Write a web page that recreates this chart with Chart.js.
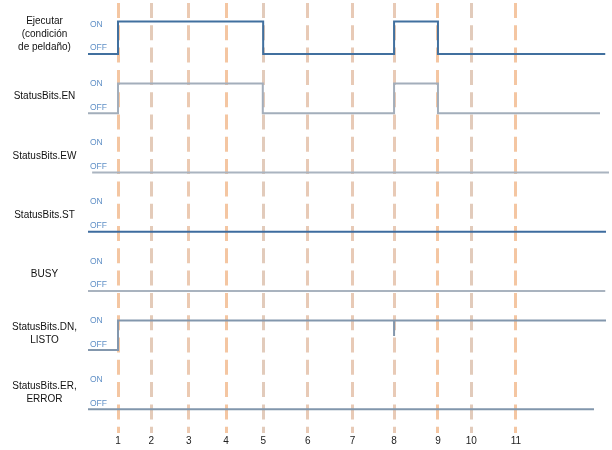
<!DOCTYPE html>
<html>
<head>
<meta charset="utf-8">
<script src="https://cdn.jsdelivr.net/npm/chart.js@4/dist/chart.umd.min.js"></script>
<style>
body{margin:0;background:#fff;}
#wrap{width:612px;height:450px;position:relative;}
</style>
</head>
<body>
<div id="wrap"><canvas id="timing"></canvas></div>
<script>
// time marks along the bottom (dashed lines)
const markLabels = ['1','2','3','4','5','6','7','8','9','10','11'];
const markPos = [1, 1.89, 2.89, 3.88, 4.87, 6.06, 7.25, 8.36, 9.53, 10.42, 11.61];

// signals, top to bottom
const rowNames = [
['Ejecutar','(condición','de peldaño)'],
'StatusBits.EN',
'StatusBits.EW',
'StatusBits.ST',
'BUSY',
['StatusBits.DN,','LISTO'],
['StatusBits.ER,','ERROR']
];
const lineStart = [0.2, 0.2, 0.31, 0.2, 0.2, 0.2, 0.2];
const lineEnd = [13.99, 13.85, 14.09, 14.01, 13.99, 14.01, 13.69];
const onIntervals = [
[[1, 4.87], [8.36, 9.53]],
[[1, 4.86], [8.36, 9.53]],
[],
[],
[],
[[1, 14.01]],
[]
];
// short dip on the DN line at mark 8
const dnGlitch = [8.36];

const lineColors = ['#41709f','#a3aebb','#aab4c0','#3e6c9f','#a9b3bf','#8397ad','#8196ac'];
const markColors = ['#f4c6a2','#e4cbb9','#eccab2','#f4c6a2','#e2cbbb','#e8cab6','#e8cab6','#e8cab6','#f4c6a2','#e2cbbb','#f4c6a2'];

function offLevel(i){
return 6 - i;
}

function onLevel(i){
return 6 - i + (i===0 ? 0.55 : 0.5);
}

function buildPoints(i){

const off = offLevel(i);
const on = onLevel(i);
const pts = [{x:lineStart[i], y:off}];

onIntervals[i].forEach(iv=>{

pts.push({x:iv[0], y:off});
pts.push({x:iv[0], y:on});

if(i===5){
dnGlitch.forEach(g=>{
pts.push({x:g, y:on});
pts.push({x:g, y:on-0.26});
pts.push({x:g, y:on});
});
}

pts.push({x:iv[1], y:on});

if(iv[1] < lineEnd[i]){
pts.push({x:iv[1], y:off});
}

});

const last = pts[pts.length-1];
if(last.x < lineEnd[i]){
pts.push({x:lineEnd[i], y:off});
}

return pts;

}

const datasets = rowNames.map((name,i)=>({
label: Array.isArray(name) ? name.join(' ') : name,
data: buildPoints(i),
borderColor: lineColors[i],
borderWidth: 2,
pointRadius: 0,
tension: 0,
fill: false,
borderJoinStyle: 'miter',
yAxisID: 'y'
}));

const yMin = -0.4;
const yMax = 6.912;

function noPadding(scale){
scale.paddingTop = 0;
scale.paddingBottom = 0;
scale.paddingLeft = 0;
scale.paddingRight = 0;
}

const timingChart = new Chart(
document.getElementById('timing'),
{
type:'line',
data:{datasets:datasets},
options:{
responsive:true,
maintainAspectRatio:false,
animation:false,
layout:{padding:0},
plugins:{
legend:{display:false},
tooltip:{enabled:false}
},
scales:{
x:{
type:'linear',
min:0.2,
max:14.17,
z:1,
afterBuildTicks:function(scale){
scale.ticks = markPos.map(v=>({value:v}));
},
afterFit:function(scale){
scale.height = 17;
noPadding(scale);
},
ticks:{
autoSkip:false,
maxRotation:0,
padding:2,
color:'#222',
font:{family:'Liberation Sans, Arial', size:10},
callback:function(value,index){
return markLabels[index];
}
},
grid:{
drawTicks:false,
lineWidth:3,
color:function(ctx){
return markColors[ctx.index] || '#f4c6a2';
}
},
border:{display:false, dash:[15,7.3], dashOffset:19.3}
},
y:{
type:'linear',
position:'left',
weight:1,
min:yMin,
max:yMax,
afterBuildTicks:function(scale){
scale.ticks = rowNames.map((n,i)=>({value: offLevel(i) + (i===0 ? 0.34 : 0.28)}));
},
afterFit:function(scale){
scale.width = 88;
noPadding(scale);
},
ticks:{
autoSkip:false,
crossAlign:'center',
color:'#111',
font:{family:'Liberation Sans, Arial', size:10, lineHeight:1.3},
callback:function(value,index){
return rowNames[index];
}
},
grid:{display:false},
border:{display:false}
},
yState:{
type:'linear',
position:'left',
weight:0,
min:yMin,
max:yMax,
afterBuildTicks:function(scale){
const t = [];
rowNames.forEach((n,i)=>{
t.push({value: offLevel(i) + 0.5});
t.push({value: offLevel(i) + 0.1});
});
scale.ticks = t;
},
afterFit:function(scale){
scale.width = 0;
noPadding(scale);
},
ticks:{
mirror:true,
autoSkip:false,
padding:2,
color:'#5f8fc6',
font:{family:'Liberation Sans, Arial', size:8.5},
callback:function(value,index){
return index % 2 === 0 ? 'ON' : 'OFF';
}
},
grid:{display:false},
border:{display:false}
}
}
}
}
);
</script>
</body>
</html>
